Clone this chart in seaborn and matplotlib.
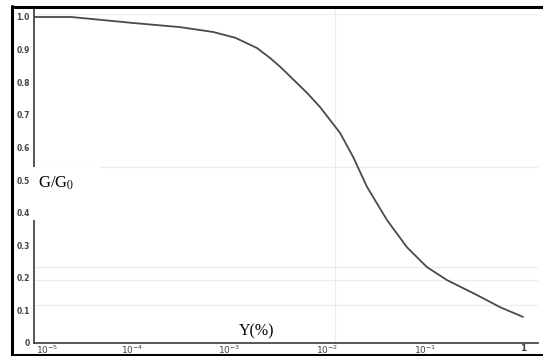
import numpy as np
import pandas as pd
import matplotlib
matplotlib.use("Agg")
import matplotlib.pyplot as plt
import seaborn as sns
from matplotlib.lines import Line2D
from matplotlib.patches import Rectangle
from matplotlib.transforms import ScaledTranslation

# ---- data ----
strain = [1.0e-5, 2.4e-5, 1.0e-4, 3.1e-4, 6.8e-4, 1.15e-3, 1.9e-3, 2.6e-3,
          3.3e-3, 6.2e-3, 8.4e-3, 1.35e-2, 1.83e-2, 2.54e-2, 4.07e-2,
          6.5e-2, 0.104, 0.167, 0.339, 0.582, 1.0]
g_ratio = [1.0, 1.0, 0.982, 0.969, 0.954, 0.936, 0.905, 0.874,
           0.847, 0.767, 0.724, 0.644, 0.571, 0.479, 0.377,
           0.294, 0.233, 0.193, 0.147, 0.110, 0.080]
x_ticks = [1e-5, 1e-4, 1e-3, 1e-2, 1e-1, 1]
x_tick_labels = [r"$10^{-5}$", r"$10^{-4}$", r"$10^{-3}$", r"$10^{-2}$", r"$10^{-1}$", "1"]
y_ticks = [0, 0.1, 0.2, 0.3, 0.4, 0.5, 0.6, 0.7, 0.8, 0.9, 1.0]
y_tick_labels = ["0", "0.1", "0.2", "0.3", "0.4", "0.5", "0.6", "0.7", "0.8", "0.9", "1.0"]

df = pd.DataFrame({"strain": strain, "G": g_ratio})

sns.set_theme(style="white")
W, H = 543, 356
fig = plt.figure(figsize=(W / 100, H / 100), dpi=100)

# axes: x=1e-5 at px 34, x=1 at px 523 ; y=0 at px 343, y=1 at px 17
left_px, right_px = 34, 538
bot_px, top_px = 343, 8
ax = fig.add_axes([left_px / W, (H - bot_px) / H, (right_px - left_px) / W, (bot_px - top_px) / H])
ax.set_xscale("log")
dec_px = (523 - 34) / 5.0
ax.set_xlim(1e-5, 10 ** ((right_px - 34) / dec_px - 5))
ax.set_ylim(0, 1.0 + (17 - top_px) / 326.0)

# faint graph-paper lines
for yv in [0.233, 0.193, 0.117, 0.54]:
    ax.axhline(yv, color="#ececec", lw=0.8, zorder=0)
ax.axvline(0.012, color="#ececec", lw=0.8, zorder=0)
ax.axhline(1.01, color="#f0f0f0", lw=0.8, zorder=0)

sns.lineplot(data=df, x="strain", y="G", ax=ax, color="#4a4a4a", lw=1.3)

ax.set_xticks(x_ticks)
ax.set_xticklabels(x_tick_labels)
ax.set_yticks(y_ticks)
ax.set_yticklabels(y_tick_labels)
ax.minorticks_off()
ax.tick_params(axis="both", labelsize=5.5, colors="#444444", width=0.8, pad=1)
ax.tick_params(axis="x", direction="in", length=0, pad=0.5, labelsize=6.5)
ax.tick_params(axis="y", direction="out", length=2, pad=1)
for lab in ax.get_xticklabels() + ax.get_yticklabels():
    lab.set_fontweight("bold")
first = ax.get_xticklabels()[0]
first.set_horizontalalignment("left")
first.set_transform(first.get_transform() + ScaledTranslation(2 / 100, 0, fig.dpi_scale_trans))
ax.set_xlabel("")
ax.set_ylabel("")
ax.grid(False)
for s in ["top", "right"]:
    ax.spines[s].set_visible(False)
for s in ["left", "bottom"]:
    ax.spines[s].set_color("#3a3a3a")
    ax.spines[s].set_linewidth(1.2)

# labels (serif, like the reference)
fig.add_artist(Rectangle((33 / W, (H - 220) / H), 67 / W, 53 / H,
                         transform=fig.transFigure, facecolor="white",
                         edgecolor="none", zorder=5))
fig.text(38 / W, (H - 183) / H, r"G/G$_0$", family="Liberation Serif",
         fontsize=12, ha="left", va="center", color="black", zorder=6,
         math_fontfamily="stix")
fig.text(257 / W, (H - 331) / H, "Υ(%)", family="Liberation Serif",
         fontsize=11.5, ha="center", va="center", color="black", zorder=6)

# black frame of the scanned picture (left, top, bottom)
lw = 2.2
fig.add_artist(Line2D([11.5 / W, 11.5 / W], [0, 1 - 6 / H], transform=fig.transFigure,
                      color="black", lw=lw, zorder=10))
fig.add_artist(Line2D([11.5 / W, 1], [1 - 6.5 / H, 1 - 6.5 / H], transform=fig.transFigure,
                      color="black", lw=lw, zorder=10))
fig.add_artist(Line2D([11.5 / W, 1], [1.5 / H, 1.5 / H], transform=fig.transFigure,
                      color="black", lw=lw, zorder=10))

fig.savefig("out.png", dpi=100)
